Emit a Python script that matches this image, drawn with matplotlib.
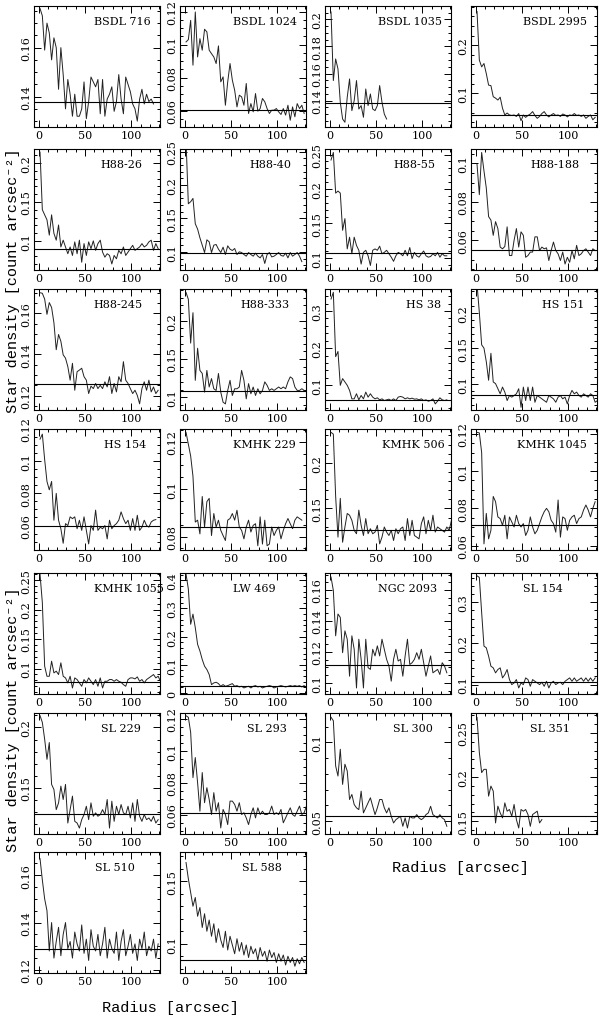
import matplotlib
matplotlib.use('Agg')
import matplotlib.pyplot as plt
from matplotlib.ticker import MultipleLocator, AutoMinorLocator, FuncFormatter

# radio comun de los perfiles [arcsec]
radius = [1.5, 4, 6.5, 9, 11.5, 14, 16.5, 19, 21.5, 24, 26.5, 29, 31.5, 34, 36.5, 39,
          41.5, 44, 46.5, 49, 51.5, 54, 56.5, 59, 61.5, 64, 66.5, 69, 71.5, 74, 76.5,
          79, 81.5, 84, 86.5, 89, 91.5, 94, 96.5, 99, 101.5, 104, 106.5, 109, 111.5,
          114, 116.5, 119, 121.5, 124, 126.5, 129, 131.5]

names = ["BSDL 716", "BSDL 1024", "BSDL 1035", "BSDL 2995",
         "H88-26", "H88-40", "H88-55", "H88-188",
         "H88-245", "H88-333", "HS 38", "HS 151",
         "HS 154", "KMHK 229", "KMHK 506", "KMHK 1045",
         "KMHK 1055", "LW 469", "NGC 2093", "SL 154",
         "SL 229", "SL 293", "SL 300", "SL 351",
         "SL 510", "SL 588"]

# densidad de fondo de cada cumulo
background = [0.138, 0.0606, 0.1383, 0.055,
              0.090, 0.098, 0.107, 0.0551,
              0.1254, 0.1075, 0.0618, 0.0843,
              0.0597, 0.084, 0.1267, 0.0712,
              0.0778, 0.026, 0.1113, 0.107,
              0.1283, 0.0611, 0.0532, 0.1557,
              0.129, 0.087]

ylims = [(0.1276, 0.177), (0.050, 0.1234), (0.1205, 0.2099), (0.030, 0.2815),
         (0.0626, 0.218), (0.0728, 0.254), (0.0824, 0.258), (0.0446, 0.1074),
         (0.113, 0.1718), (0.0832, 0.2415), (0.0336, 0.359), (0.0629, 0.2333),
         (0.0448, 0.120), (0.0743, 0.1254), (0.1045, 0.237), (0.0576, 0.1227),
         (0.0568, 0.262), (-0.0036, 0.426), (0.0928, 0.171), (0.0772, 0.371),
         (0.1117, 0.212), (0.0479, 0.1237), (0.0419, 0.1187), (0.1356, 0.2724),
         (0.1187, 0.1698), (0.0766, 0.1734)]

ystep = [0.02, 0.02, 0.02, 0.1,
         0.05, 0.05, 0.05, 0.02,
         0.02, 0.05, 0.1, 0.05,
         0.02, 0.02, 0.05, 0.02,
         0.05, 0.1, 0.02, 0.1,
         0.05, 0.02, 0.05, 0.05,
         0.02, 0.05]

density = [
    [0.176, 0.173, 0.159, 0.170, 0.166, 0.155, 0.164, 0.160, 0.143, 0.160, 0.149, 0.135, 0.147,
     0.141, 0.132, 0.141, 0.132, 0.132, 0.135, 0.146, 0.131, 0.138, 0.148, 0.146, 0.144, 0.147,
     0.133, 0.147, 0.132, 0.139, 0.141, 0.144, 0.134, 0.138, 0.149, 0.139, 0.133, 0.148, 0.145,
     0.142, 0.137, 0.135, 0.130, 0.139, 0.143, 0.137, 0.141, 0.138, 0.139, 0.137],
    [0.1016, 0.103, 0.1147, 0.0875, 0.1198, 0.0925, 0.1036, 0.0966, 0.1093, 0.1077, 0.0966,
     0.0945, 0.0925, 0.0885, 0.0992, 0.0774, 0.0804, 0.0632, 0.0774, 0.0885, 0.0784, 0.0723,
     0.0622, 0.0693, 0.0683, 0.0632, 0.0764, 0.0582, 0.0642, 0.0592, 0.0703, 0.0596, 0.0612,
     0.0673, 0.0653, 0.0612, 0.0582, 0.0602, 0.0602, 0.0612, 0.0592, 0.0576, 0.0612, 0.0572,
     0.0632, 0.0541, 0.0622, 0.0562, 0.0642, 0.0612, 0.0632, 0.0582],
    [0.2055, 0.1548, 0.1708, 0.1634, 0.1388, 0.1264, 0.124, 0.1425, 0.156, 0.1326, 0.140,
     0.1548, 0.1338, 0.1363, 0.1277, 0.1486, 0.1363, 0.1449, 0.1338, 0.1326, 0.1363, 0.1511,
     0.1388, 0.1301, 0.1264],
    [0.270, 0.169, 0.155, 0.162, 0.141, 0.117, 0.116, 0.093, 0.090, 0.086, 0.092, 0.069, 0.055,
     0.059, 0.055, 0.054, 0.055, 0.052, 0.058, 0.043, 0.055, 0.050, 0.054, 0.057, 0.062, 0.054,
     0.048, 0.052, 0.058, 0.062, 0.055, 0.051, 0.055, 0.058, 0.054, 0.055, 0.052, 0.057, 0.055,
     0.051, 0.055, 0.054, 0.058, 0.054, 0.055, 0.052, 0.055, 0.048, 0.052, 0.055, 0.045, 0.050],
    [0.214, 0.140, 0.1335, 0.127, 0.1074, 0.1335, 0.1096, 0.1009, 0.1204, 0.0922, 0.1009,
     0.0922, 0.0835, 0.0922, 0.0813, 0.0987, 0.0835, 0.1009, 0.0726, 0.0965, 0.0813, 0.0987,
     0.090, 0.100, 0.0878, 0.0965, 0.1009, 0.0856, 0.0791, 0.0835, 0.0813, 0.0704, 0.0813,
     0.077, 0.0878, 0.0835, 0.0922, 0.0813, 0.0856, 0.090, 0.0943, 0.0878, 0.090, 0.0922,
     0.0965, 0.0922, 0.0943, 0.0987, 0.1009, 0.0878, 0.0965, 0.090],
    [0.267, 0.172, 0.175, 0.180, 0.142, 0.134, 0.121, 0.110, 0.099, 0.118, 0.115, 0.099, 0.110,
     0.111, 0.104, 0.099, 0.107, 0.096, 0.109, 0.104, 0.102, 0.105, 0.096, 0.100, 0.099, 0.096,
     0.0935, 0.099, 0.096, 0.0935, 0.098, 0.0935, 0.091, 0.096, 0.0826, 0.096, 0.099, 0.0924,
     0.0935, 0.096, 0.099, 0.0946, 0.0935, 0.098, 0.091, 0.099, 0.0935, 0.096, 0.099, 0.0935,
     0.0853],
    [0.242, 0.253, 0.194, 0.197, 0.194, 0.140, 0.157, 0.113, 0.130, 0.106, 0.130, 0.118, 0.111,
     0.091, 0.108, 0.111, 0.103, 0.089, 0.111, 0.113, 0.111, 0.117, 0.106, 0.108, 0.111, 0.106,
     0.101, 0.095, 0.103, 0.108, 0.106, 0.103, 0.111, 0.103, 0.115, 0.099, 0.108, 0.103, 0.101,
     0.106, 0.110, 0.103, 0.101, 0.102, 0.106, 0.103, 0.108, 0.101, 0.106, 0.103, 0.103],
    [0.0995, 0.0837, 0.1056, 0.096, 0.0872, 0.0723, 0.0705, 0.0626, 0.0697, 0.0661, 0.0565,
     0.0556, 0.0568, 0.067, 0.0521, 0.0521, 0.060, 0.0661, 0.0565, 0.0644, 0.0626, 0.0512,
     0.0521, 0.0539, 0.0539, 0.0618, 0.0618, 0.0547, 0.0565, 0.0556, 0.0561, 0.0495, 0.0547,
     0.0591, 0.0547, 0.053, 0.0495, 0.0539, 0.0477, 0.0512, 0.0486, 0.0547, 0.0504, 0.0574,
     0.0521, 0.053, 0.0547, 0.0556, 0.0539, 0.0521, 0.0556, 0.0547],
    [0.170, 0.1697, 0.1669, 0.1595, 0.1652, 0.1628, 0.1554, 0.1423, 0.1497, 0.1464, 0.1398,
     0.1382, 0.1341, 0.1275, 0.1357, 0.1226, 0.1316, 0.1324, 0.1333, 0.1292, 0.1275, 0.121,
     0.1246, 0.1234, 0.1259, 0.1234, 0.125, 0.1234, 0.1267, 0.1242, 0.1292, 0.121, 0.1259,
     0.1218, 0.1292, 0.1267, 0.1365, 0.1275, 0.1259, 0.1234, 0.121, 0.1226, 0.1201, 0.116,
     0.1234, 0.1267, 0.1226, 0.1275, 0.1218, 0.1242, 0.121, 0.1226],
    [0.237, 0.228, 0.1707, 0.2105, 0.122, 0.164, 0.135, 0.131, 0.1066, 0.135, 0.1133, 0.1243,
     0.111, 0.1088, 0.131, 0.1066, 0.0934, 0.0912, 0.1088, 0.122, 0.1022, 0.111, 0.111, 0.1133,
     0.135, 0.122, 0.0978, 0.1177, 0.1044, 0.1133, 0.1022, 0.111, 0.1044, 0.1088, 0.120, 0.1155,
     0.1088, 0.111, 0.1088, 0.111, 0.1133, 0.111, 0.1133, 0.111, 0.120, 0.1265, 0.1243, 0.1133,
     0.1088, 0.1088, 0.111, 0.1088],
    [0.332, 0.350, 0.177, 0.191, 0.100, 0.118, 0.109, 0.100, 0.0864, 0.0636, 0.0636, 0.0773,
     0.0609, 0.0727, 0.0636, 0.0818, 0.0682, 0.0773, 0.0682, 0.0636, 0.0664, 0.0609, 0.0636,
     0.0591, 0.0609, 0.0627, 0.0591, 0.0636, 0.0591, 0.0682, 0.070, 0.0682, 0.0636, 0.0664,
     0.0636, 0.0655, 0.0627, 0.0636, 0.0609, 0.0636, 0.0591, 0.0609, 0.0573, 0.0591, 0.0636,
     0.050, 0.0573, 0.0664, 0.0609, 0.0591, 0.0609],
    [0.240, 0.200, 0.1547, 0.150, 0.131, 0.1048, 0.1428, 0.1024, 0.100, 0.0929, 0.0857, 0.0952,
     0.0881, 0.0762, 0.0833, 0.081, 0.0833, 0.0857, 0.0929, 0.0667, 0.0952, 0.0762, 0.0952,
     0.0762, 0.0952, 0.0738, 0.0833, 0.081, 0.0786, 0.0762, 0.0738, 0.0833, 0.081, 0.0786,
     0.0738, 0.081, 0.0833, 0.0786, 0.081, 0.0714, 0.0833, 0.0905, 0.0857, 0.0881, 0.0833,
     0.081, 0.0857, 0.0833, 0.081, 0.0857, 0.0833, 0.0738, 0.0762],
    [0.1137, 0.1168, 0.101, 0.0874, 0.0822, 0.0874, 0.0633, 0.080, 0.0633, 0.058, 0.049,
     0.0612, 0.060, 0.0654, 0.0643, 0.0654, 0.058, 0.0633, 0.057, 0.0654, 0.057, 0.0486, 0.060,
     0.057, 0.0696, 0.057, 0.059, 0.058, 0.060, 0.0517, 0.0633, 0.058, 0.060, 0.0612, 0.0633,
     0.0685, 0.0643, 0.0612, 0.0633, 0.057, 0.0643, 0.057, 0.0664, 0.057, 0.059, 0.0633, 0.060,
     0.059, 0.0622, 0.0633, 0.0637],
    [0.124, 0.119, 0.114, 0.1054, 0.0861, 0.0869, 0.0811, 0.0969, 0.084, 0.0947, 0.0961,
     0.0804, 0.0897, 0.084, 0.0869, 0.0826, 0.0804, 0.0783, 0.0869, 0.0876, 0.0897, 0.0869,
     0.0911, 0.084, 0.0826, 0.079, 0.084, 0.0869, 0.0819, 0.0847, 0.0854, 0.0761, 0.0883,
     0.0768, 0.0869, 0.0761, 0.0768, 0.084, 0.0804, 0.0826, 0.084, 0.079, 0.0826, 0.0854,
     0.0876, 0.0854, 0.0833, 0.0869, 0.0883, 0.0876, 0.0869],
    [0.2333, 0.2314, 0.163, 0.1186, 0.1611, 0.113, 0.1297, 0.1445, 0.1426, 0.137, 0.126, 0.1223,
     0.1482, 0.1315, 0.1204, 0.1389, 0.1223, 0.1278, 0.1223, 0.1241, 0.1315, 0.1112, 0.1186,
     0.1297, 0.1241, 0.1204, 0.126, 0.1149, 0.1278, 0.1223, 0.1278, 0.1297, 0.1149, 0.1389,
     0.1204, 0.137, 0.1204, 0.1186, 0.1167, 0.1334, 0.1408, 0.1223, 0.137, 0.126, 0.1426,
     0.1241, 0.1297, 0.1278, 0.126, 0.1241, 0.1297, 0.126, 0.137],
    [0.1209, 0.1206, 0.110, 0.0609, 0.0773, 0.0636, 0.0682, 0.0864, 0.0836, 0.0754, 0.0745,
     0.0709, 0.0763, 0.0636, 0.0754, 0.0727, 0.070, 0.0763, 0.0718, 0.070, 0.0718, 0.0654,
     0.0682, 0.0754, 0.070, 0.0663, 0.0682, 0.0718, 0.0754, 0.0782, 0.080, 0.0782, 0.0736,
     0.0718, 0.0672, 0.0845, 0.0645, 0.0754, 0.0745, 0.0682, 0.0736, 0.0754, 0.0763, 0.0718,
     0.0745, 0.0754, 0.0791, 0.0818, 0.0791, 0.0754, 0.080, 0.0836],
    [0.260, 0.2119, 0.104, 0.0869, 0.0869, 0.1125, 0.0926, 0.0955, 0.0898, 0.1097, 0.0869,
     0.0841, 0.0756, 0.0869, 0.067, 0.0841, 0.0813, 0.0756, 0.0699, 0.0813, 0.0756, 0.0841,
     0.0784, 0.0727, 0.0813, 0.0699, 0.0841, 0.067, 0.0784, 0.0784, 0.0813, 0.0813, 0.0784,
     0.0813, 0.0784, 0.0767, 0.0727, 0.0699, 0.0813, 0.0841, 0.0841, 0.0824, 0.0858, 0.0784,
     0.0813, 0.0756, 0.0813, 0.0841, 0.0869, 0.0898, 0.0841, 0.0869, 0.0784],
    [0.4225, 0.369, 0.244, 0.280, 0.232, 0.1726, 0.149, 0.119, 0.0952, 0.0833, 0.0655, 0.0298,
     0.0357, 0.0381, 0.0333, 0.0238, 0.0298, 0.0238, 0.0262, 0.0298, 0.0333, 0.0238, 0.0262,
     0.0214, 0.0238, 0.0179, 0.0214, 0.0238, 0.0179, 0.0238, 0.0262, 0.0214, 0.0238, 0.0179,
     0.0214, 0.0238, 0.0262, 0.0238, 0.0179, 0.0214, 0.0238, 0.0262, 0.0238, 0.0214, 0.0238,
     0.0262, 0.0238, 0.0262, 0.0238, 0.0262, 0.0214, 0.0262],
    [0.1684, 0.1597, 0.1304, 0.1445, 0.1423, 0.1195, 0.1336, 0.1282, 0.1043, 0.1304, 0.1217,
     0.0967, 0.1282, 0.1152, 0.0967, 0.1282, 0.1098, 0.1087, 0.1217, 0.1174, 0.1239, 0.1174,
     0.1282, 0.1217, 0.1152, 0.1109, 0.1011, 0.1152, 0.1217, 0.1141, 0.1152, 0.1043, 0.1174,
     0.1282, 0.1119, 0.113, 0.1152, 0.1195, 0.1152, 0.1217, 0.113, 0.1043, 0.1109, 0.1174,
     0.1065, 0.1076, 0.1087, 0.1054, 0.113, 0.1109, 0.1065],
    [0.3642, 0.3602, 0.2748, 0.1935, 0.1894, 0.1691, 0.1447, 0.1407, 0.1285, 0.1366, 0.1407,
     0.1163, 0.1244, 0.1366, 0.1122, 0.100, 0.1041, 0.1122, 0.0919, 0.1041, 0.100, 0.1163,
     0.1122, 0.0959, 0.1122, 0.1081, 0.1041, 0.100, 0.1057, 0.0959, 0.1081, 0.0919, 0.1041,
     0.1081, 0.100, 0.1041, 0.1057, 0.100, 0.1081, 0.1122, 0.1163, 0.1081, 0.1163, 0.1081,
     0.1122, 0.1163, 0.1081, 0.1163, 0.1081, 0.1163, 0.1081, 0.1163],
    [0.2098, 0.2042, 0.1903, 0.1736, 0.1875, 0.1528, 0.1486, 0.1319, 0.1375, 0.1514, 0.1403,
     0.1528, 0.1208, 0.1319, 0.1431, 0.1222, 0.1208, 0.1166, 0.1236, 0.1278, 0.1347, 0.1236,
     0.1375, 0.1264, 0.1292, 0.1264, 0.1278, 0.1319, 0.1278, 0.1403, 0.1166, 0.1389, 0.1222,
     0.1347, 0.1278, 0.1361, 0.1292, 0.1278, 0.1347, 0.125, 0.1375, 0.1222, 0.1403, 0.1264,
     0.1222, 0.1278, 0.1236, 0.125, 0.1222, 0.1264, 0.1208, 0.1236],
    [0.122, 0.121, 0.1116, 0.0832, 0.0958, 0.080, 0.0622, 0.0864, 0.0675, 0.0769, 0.0696,
     0.0601, 0.0738, 0.0622, 0.0675, 0.0517, 0.0633, 0.0601, 0.0538, 0.0685, 0.0685, 0.0664,
     0.0622, 0.0675, 0.0601, 0.0612, 0.058, 0.0538, 0.0601, 0.0643, 0.058, 0.0643, 0.0601,
     0.0622, 0.0601, 0.0601, 0.0612, 0.0654, 0.0601, 0.0612, 0.0601, 0.0633, 0.0549, 0.058,
     0.0612, 0.0643, 0.0601, 0.059, 0.0622, 0.0654, 0.0601, 0.0612, 0.0654],
    [0.116, 0.1138, 0.0851, 0.0787, 0.0957, 0.0734, 0.0862, 0.0819, 0.0638, 0.067, 0.0606,
     0.0585, 0.0574, 0.0691, 0.0553, 0.0585, 0.0617, 0.0649, 0.0595, 0.0542, 0.0585, 0.0638,
     0.0638, 0.0585, 0.0553, 0.0585, 0.0531, 0.0489, 0.051, 0.0521, 0.0531, 0.0468, 0.0521,
     0.0457, 0.0531, 0.0521, 0.0521, 0.0542, 0.0521, 0.051, 0.0521, 0.0542, 0.0553, 0.0595,
     0.0542, 0.0531, 0.0521, 0.0542, 0.0521, 0.051, 0.0468],
    [0.2675, 0.2277, 0.205, 0.2087, 0.2087, 0.1784, 0.1898, 0.1841, 0.1481, 0.1671, 0.1595,
     0.1538, 0.1708, 0.1614, 0.1633, 0.1557, 0.169, 0.1519, 0.1424, 0.1633, 0.1614, 0.1633,
     0.1576, 0.1443, 0.1576, 0.1595, 0.1614, 0.1481, 0.1519],
    [0.167, 0.158, 0.150, 0.145, 0.128, 0.140, 0.125, 0.132, 0.138, 0.126, 0.135, 0.140, 0.129,
     0.132, 0.125, 0.136, 0.131, 0.128, 0.139, 0.127, 0.133, 0.124, 0.137, 0.130, 0.128, 0.135,
     0.126, 0.131, 0.138, 0.125, 0.133, 0.129, 0.127, 0.136, 0.124, 0.132, 0.137, 0.126, 0.130,
     0.135, 0.127, 0.131, 0.124, 0.133, 0.129, 0.136, 0.126, 0.130, 0.128, 0.133, 0.125, 0.131],
    [0.165, 0.152, 0.141, 0.130, 0.137, 0.122, 0.129, 0.113, 0.124, 0.110, 0.119, 0.106, 0.116,
     0.101, 0.112, 0.103, 0.097, 0.110, 0.095, 0.106, 0.099, 0.092, 0.104, 0.094, 0.101, 0.091,
     0.099, 0.089, 0.098, 0.092, 0.096, 0.087, 0.097, 0.090, 0.094, 0.086, 0.095, 0.089, 0.093,
     0.085, 0.092, 0.086, 0.091, 0.083, 0.090, 0.085, 0.089, 0.082, 0.088, 0.084, 0.089, 0.085],
]

# posicion (en radio) donde empieza el nombre de cada cumulo
label_x = [60, 52, 52, 51, 67, 70, 69, 59, 59, 60, 82, 72, 71, 52, 56, 45,
           60, 52, 52, 51, 67, 67, 68, 59, 61, 62]

col_left = [34, 180, 325, 471]
row_top = [7, 150, 290, 430, 574, 714, 853]
W, H = 600, 1020
pw, ph = 126, 121

fig = plt.figure(figsize=(6, 10.2), dpi=100)
serif = 'DejaVu Serif'
mono = ['Liberation Mono', 'DejaVu Sans Mono']

for i, name in enumerate(names):
    r, c = divmod(i, 4)
    ax = fig.add_axes([col_left[c] / W, 1 - (row_top[r] + ph) / H, pw / W, ph / H])
    y = density[i]
    ax.plot(radius[:len(y)], y, color='#222222', lw=0.7)
    ax.axhline(background[i], color='k', lw=0.8)
    ax.set_xlim(-5, 131)
    ax.set_ylim(*ylims[i])
    ax.xaxis.set_major_locator(MultipleLocator(50))
    ax.xaxis.set_minor_locator(MultipleLocator(10))
    ax.yaxis.set_major_locator(MultipleLocator(ystep[i]))
    ax.yaxis.set_minor_locator(AutoMinorLocator(4 if ystep[i] == 0.02 else 5))
    ax.yaxis.set_major_formatter(FuncFormatter(lambda v, p: "%g" % round(v, 4)))
    ax.tick_params(which='both', direction='in', top=True, right=True, width=0.7,
                   labelsize=8, pad=2)
    ax.tick_params(which='major', length=5)
    ax.tick_params(which='minor', length=2.5)
    ax.tick_params(axis='y', labelrotation=90)
    for lab in ax.get_xticklabels() + ax.get_yticklabels():
        lab.set_fontfamily(serif)
    for lab in ax.get_yticklabels():
        lab.set_va('center')
    for s in ax.spines.values():
        s.set_linewidth(0.8)
    ax.text(label_x[i], 0.88, name, transform=ax.get_xaxis_transform(),
            ha='left', va='center', fontsize=8, family=serif)

ylab = "Star density [count arcsec\u207b\u00b2]"
fig.text(13 / W, 1 - 281 / H, ylab, rotation=90, ha='center', va='center',
         fontsize=11, family=mono)
fig.text(13 / W, 1 - 720 / H, ylab, rotation=90, ha='center', va='center',
         fontsize=11, family=mono)
fig.text(170 / W, 1 - 1008 / H, "Radius [arcsec]", ha='center', va='center',
         fontsize=11, family=mono)
fig.text(460 / W, 1 - 868 / H, "Radius [arcsec]", ha='center', va='center',
         fontsize=11, family=mono)

fig.savefig('out.png', dpi=100)
